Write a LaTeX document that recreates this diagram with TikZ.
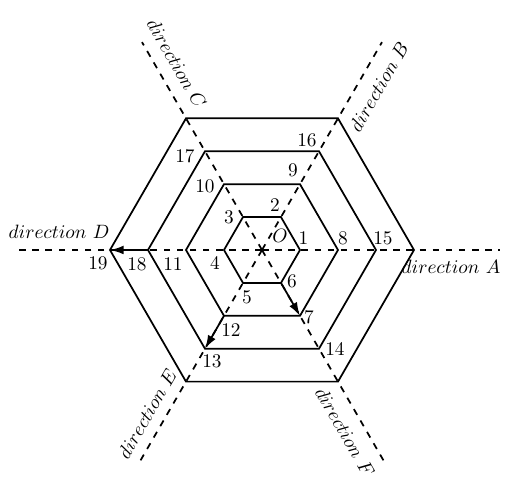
\documentclass[tikz,border=0pt]{standalone}
\usetikzlibrary{arrows.meta,calc}
\begin{document}
\begin{tikzpicture}[x=0.518pt,y=0.518pt,
  hexline/.style={line width=0.9pt, line join=miter},
  dirline/.style={line width=0.9pt, dash pattern=on 3.4pt off 3.4pt},
  steparrow/.style={line width=0.9pt, -{Latex[length=7pt,width=4.5pt]}},
  num/.style={inner sep=0pt},
  dirlabel/.style={inner sep=0pt}]
\useasboundingbox (-262,-228) rectangle (248,250);
\coordinate (O) at (0,0);
\foreach \r/\ring in {38/1,76/2,114/3,152/4}{
  \foreach \a/\d in {0/A,60/B,120/C,180/D,240/E,300/F}{
    \coordinate (\d\ring) at (\a:\r);
  }
}
% direction line ends
\coordinate (eA) at (0:238);
\coordinate (eB) at (60:240);
\coordinate (eC) at (120:240);
\coordinate (eD) at (180:247);
\coordinate (eE) at (240:245);
\coordinate (eF) at (300:244);
\foreach \e in {eA,eB,eC,eD,eE,eF}{
  \draw[dirline] (O) -- (\e);
}
% hexagons
\foreach \ring in {1,2,3,4}{
  \draw[hexline] (A\ring) -- (B\ring) -- (C\ring) -- (D\ring) -- (E\ring) -- (F\ring) -- cycle;
}
% arrows
\draw[steparrow] (F1) -- (F2);
\draw[steparrow] (E2) -- (E3);
\draw[steparrow] (D3) -- (D4);
% labels
\node[num] (lO) at ($(O)+(18,14)$) {$O$};
\node[num] (l1) at ($(A1)+(3.5,12)$) {1};
\node[num] (l2) at ($(B1)+(-6,12)$) {2};
\node[num] (l3) at ($(C1)+(-14,0)$) {3};
\node[num] (l4) at ($(D1)+(-9,-13)$) {4};
\node[num] (l5) at ($(E1)+(4,-14)$) {5};
\node[num] (l6) at ($(F1)+(11,2)$) {6};
\node[num] (l7) at ($(F2)+(9,-1.5)$) {7};
\node[num] (l8) at ($(A2)+(5,12)$) {8};
\node[num] (l9) at ($(B2)+(-7,13.5)$) {9};
\node[num] (l10) at ($(C2)+(-19,-2)$) {10};
\node[num] (l11) at ($(D2)+(-13,-14)$) {11};
\node[num] (l12) at ($(E2)+(7,-14)$) {12};
\node[num] (l13) at ($(E3)+(7,-12.5)$) {13};
\node[num] (l14) at ($(F3)+(16,0)$) {14};
\node[num] (l15) at ($(A3)+(7,12)$) {15};
\node[num] (l16) at ($(B3)+(-12,11)$) {16};
\node[num] (l17) at ($(C3)+(-20,-5)$) {17};
\node[num] (l18) at ($(D3)+(-11,-14)$) {18};
\node[num] (l19) at ($(D4)+(-12,-13)$) {19};
% direction labels
\node[dirlabel] (dA) at (189,-17) {$direction\ A$};
\node[dirlabel] (dD) at (-203,17.7) {$direction\ D$};
\node[dirlabel, rotate=60] (dB) at ($(60:200)+(-30:19.5)$) {$direction\ B$};
\node[dirlabel, rotate=-60] (dC) at ($(120:204)+(30:19.5)$) {$direction\ C$};
\node[dirlabel, rotate=60] (dE) at ($(240:199)+(150:17.6)$) {$direction\ E$};
\node[dirlabel, rotate=-60] (dF) at ($(300:199)+(210:18.9)$) {$direction\ F$};
\end{tikzpicture}
\end{document}
